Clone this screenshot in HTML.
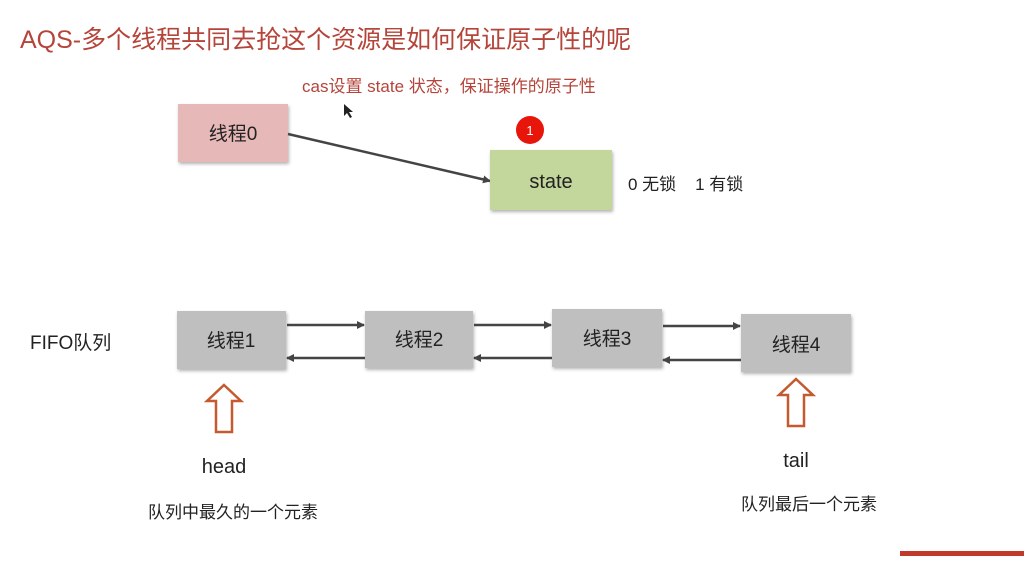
<!DOCTYPE html><html><head><meta charset="utf-8"><style>
body{margin:0;width:1024px;height:556px;background:#fff;overflow:hidden;font-family:"Liberation Sans","Noto Sans CJK SC",sans-serif}
svg text{font-family:"Liberation Sans","Noto Sans CJK SC",sans-serif}
</style></head><body>
<svg width="1024" height="556" xmlns="http://www.w3.org/2000/svg">
<defs>
<marker id="a" markerWidth="8" markerHeight="8" refX="7" refY="4" orient="auto" markerUnits="userSpaceOnUse"><path d="M0,0 L8,4 L0,8 z" fill="#444"/></marker>
<filter id="s"><feDropShadow dx="1" dy="2" stdDeviation="1.5" flood-opacity="0.3"/></filter>
</defs>
<text x="20" y="48" font-size="25" fill="#b5443a">AQS-多个线程共同去抢这个资源是如何保证原子性的呢</text>
<text x="302" y="92" font-size="17" fill="#b5443a">cas设置 state 状态，保证操作的原子性</text>
<path d="M344,104 l0,12 l3,-3 l3,5 l2,-1 l-3,-5 l4,0 z" fill="#222"/>
<rect x="178" y="104" width="110" height="58" fill="#e6b9b8" filter="url(#s)"/>
<text x="233" y="140" font-size="19" text-anchor="middle" fill="#222">线程0</text>
<line x1="288" y1="134" x2="490" y2="181" stroke="#444" stroke-width="2.5" marker-end="url(#a)"/>
<rect x="490" y="150" width="122" height="60" fill="#c3d69b" filter="url(#s)"/>
<text x="551" y="188" font-size="20" text-anchor="middle" fill="#222">state</text>
<circle cx="530" cy="130" r="14" fill="#e8150a"/>
<text x="530" y="135" font-size="13" text-anchor="middle" fill="#fff">1</text>
<text x="628" y="190" font-size="17" fill="#222">0 无锁 &#160;&#160; 1 有锁</text>
<text x="30" y="349" font-size="19" fill="#222">FIFO队列</text>
<g filter="url(#s)" fill="#bfbfbf">
<rect x="177" y="311" width="109" height="58"/><rect x="365" y="311" width="108" height="57"/>
<rect x="552" y="309" width="110" height="58"/><rect x="741" y="314" width="110" height="58"/>
</g>
<g font-size="19" text-anchor="middle" fill="#222">
<text x="231" y="347">线程1</text><text x="419" y="346">线程2</text><text x="607" y="345">线程3</text><text x="796" y="351">线程4</text>
</g>
<g stroke="#444" stroke-width="2.5">
<line x1="287" y1="325" x2="364" y2="325" marker-end="url(#a)"/>
<line x1="474" y1="325" x2="551" y2="325" marker-end="url(#a)"/>
<line x1="663" y1="326" x2="740" y2="326" marker-end="url(#a)"/>
<line x1="365" y1="358" x2="287" y2="358" marker-end="url(#a)"/>
<line x1="552" y1="358" x2="474" y2="358" marker-end="url(#a)"/>
<line x1="741" y1="360" x2="663" y2="360" marker-end="url(#a)"/>
</g>
<path d="M224,385 L241,401 L232,401 L232,432 L216,432 L216,401 L207,401 Z" fill="none" stroke="#c55a2f" stroke-width="2.5"/>
<path d="M796,379 L813,395 L804,395 L804,426 L788,426 L788,395 L779,395 Z" fill="none" stroke="#c55a2f" stroke-width="2.5"/>
<text x="224" y="473" font-size="20" text-anchor="middle" fill="#222">head</text>
<text x="796" y="467" font-size="20" text-anchor="middle" fill="#222">tail</text>
<text x="148" y="518" font-size="17" fill="#222">队列中最久的一个元素</text>
<text x="741" y="510" font-size="17" fill="#222">队列最后一个元素</text>
<rect x="900" y="551" width="124" height="5" fill="#c0392b"/>
</svg>
</body></html>
